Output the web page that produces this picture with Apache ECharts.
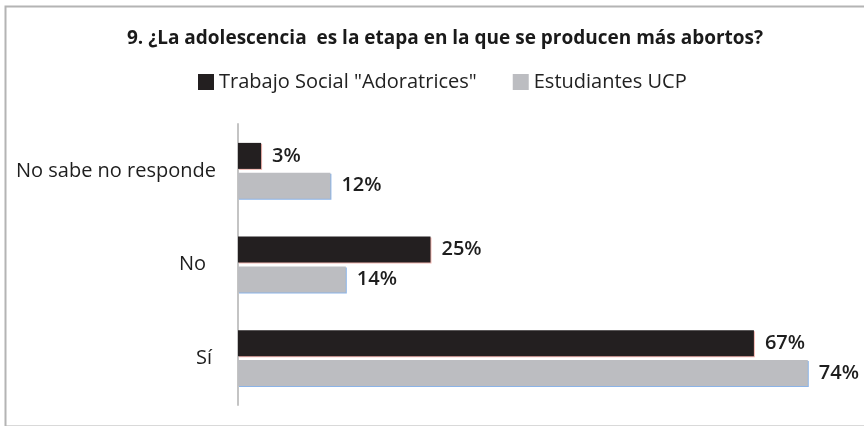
<!DOCTYPE html>
<html>
<head>
<meta charset="utf-8">
<script src="https://cdn.jsdelivr.net/npm/echarts@6/dist/echarts.min.js"></script>
<style>
  html, body { margin: 0; padding: 0; background: #fff; }
  #chart { width: 864px; height: 426px; }
</style>
</head>
<body>
<div id="chart"></div>
<script>
// Answers to question 9, in percent
const categories = ['No sabe no responde', 'No', 'Sí'];
const seriesNames = ['Trabajo Social "Adoratrices"', 'Estudiantes UCP'];
const trabajoSocial = [3, 25, 67];
const estudiantesUCP = [12, 14, 74];

// extra right padding per category label (px)
const labelPadRight = [0, 10, 4];

const FONT = "'Open Sans', 'Noto Sans', sans-serif";

const chart = echarts.init(document.getElementById('chart'), null, { renderer: 'canvas' });

const labelStyle = {
  show: true,
  position: 'right',
  distance: 11,
  formatter: p => p.value + '%',
  color: '#1e1e1e',
  fontFamily: FONT,
  fontWeight: 600,
  fontSize: 20
};

chart.setOption({
  animation: false,
  backgroundColor: '#fff',
  graphic: [{
    type: 'rect',
    left: 3, top: 4,
    shape: { width: 900, height: 420 },
    style: { fill: 'none', stroke: '#b4b4b4', lineWidth: 2 },
    silent: true
  }],
  title: {
    text: '9. ¿La adolescencia  es la etapa en la que se producen más abortos?',
    left: 440, top: 24, textAlign: 'center',
    textStyle: { fontFamily: FONT, fontWeight: 'bold', fontSize: 19, color: '#1a1a1a' }
  },
  legend: {
    data: seriesNames,
    left: 198, top: 72, padding: 0,
    icon: 'rect', itemWidth: 16, itemHeight: 16, itemGap: 36,
    textStyle: { fontFamily: FONT, fontSize: 20, color: '#222' }
  },
  grid: { left: 238, right: 10, top: 124, height: 281, containLabel: false },
  xAxis: {
    type: 'value', min: 0, max: 80,
    show: false
  },
  yAxis: {
    type: 'category',
    data: categories.map((c, i) => ({ value: c, textStyle: { padding: [0, labelPadRight[i], 0, 0] } })),
    inverse: true,
    axisLine: { show: true, lineStyle: { color: '#c4c4c4', width: 2 } },
    axisTick: { show: false },
    axisLabel: { fontFamily: FONT, fontSize: 20, color: '#1e1e1e', margin: 22 }
  },
  series: [{
    name: seriesNames[0], type: 'bar', data: trabajoSocial,
    barWidth: 26, barGap: '15%',
    itemStyle: {
      color: '#231f20',
      shadowColor: 'rgba(232,120,110,0.55)', shadowOffsetX: 1, shadowOffsetY: 1, shadowBlur: 0
    },
    label: labelStyle
  }, {
    name: seriesNames[1], type: 'bar', data: estudiantesUCP,
    barWidth: 26, barGap: '15%',
    itemStyle: {
      color: '#bcbdc1',
      shadowColor: 'rgba(110,160,225,0.8)', shadowOffsetX: 1, shadowOffsetY: 1, shadowBlur: 0
    },
    label: labelStyle
  }]
});
</script>
</body>
</html>
